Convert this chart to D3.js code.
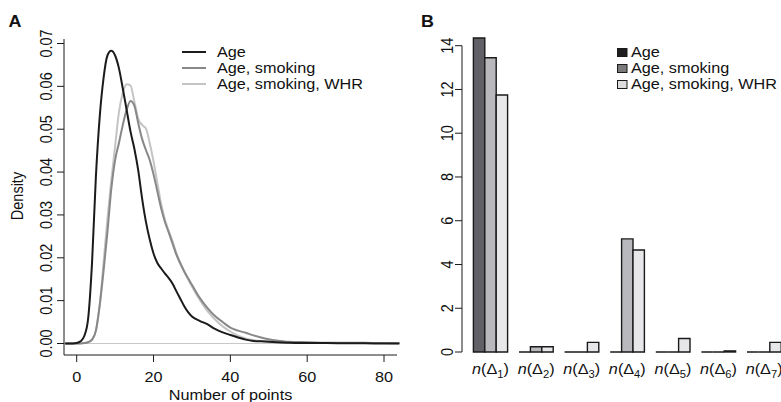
<!DOCTYPE html>
<html>
<head>
<meta charset="utf-8">
<script src="https://cdn.jsdelivr.net/npm/d3@7"></script>
<style>
  html, body { margin: 0; padding: 0; background: #fff; }
  svg { display: block; font-family: "Liberation Sans", Arial, Helvetica, sans-serif; }
  text { fill: #111; }
</style>
</head>
<body>
<div id="chart"></div>
<script>
// ---- panel A: density of number of points ----
const densX = [-3, -1, 0, 1, 2, 3, 4, 5, 6, 7, 8, 9, 10, 11, 12, 13, 14, 15, 16, 17, 18, 19, 20,
  21, 22, 23, 24, 25, 26, 27, 28, 29, 30, 32, 34, 36, 38, 40, 42, 44, 46, 48, 50, 52, 55, 60,
  65, 70, 75, 80, 84];
const densAge = [0, 0, 0.0001, 0.0005, 0.0018, 0.006, 0.019, 0.039, 0.053, 0.062, 0.0672, 0.0683,
  0.0672, 0.0642, 0.0595, 0.0545, 0.0495, 0.0455, 0.0405, 0.034, 0.0285, 0.0243, 0.021,
  0.0188, 0.0175, 0.0163, 0.0152, 0.0139, 0.0121, 0.0104, 0.0087, 0.0073, 0.0063, 0.0053,
  0.0045, 0.0034, 0.0026, 0.002, 0.0014, 0.0009, 0.0006, 0.0005, 0.0004, 0.0003, 0.0002,
  0.0001, 0.0001, 0.00005, 0.00003, 0.00002, 0];
const densSmoking = [0, 0, 0, 0, 0.0001, 0.0003, 0.0009, 0.003, 0.009, 0.017, 0.026, 0.036,
  0.0428, 0.0468, 0.051, 0.0545, 0.0566, 0.0555, 0.0515, 0.0478, 0.0452, 0.0428, 0.0395,
  0.0355, 0.0315, 0.0283, 0.0258, 0.0232, 0.0206, 0.0186, 0.0168, 0.0152, 0.0137, 0.0107,
  0.0083, 0.0064, 0.005, 0.0037, 0.003, 0.0025, 0.0019, 0.0014, 0.001, 0.0007, 0.0004,
  0.0003, 0.0002, 0.0002, 0.0002, 0.0001, 0.00005];
const densWHR = [0, 0, 0, 0, 0.0001, 0.0003, 0.0009, 0.003, 0.009, 0.019, 0.029, 0.038, 0.046,
  0.054, 0.0585, 0.0605, 0.0602, 0.0565, 0.0525, 0.051, 0.0502, 0.0468, 0.0425, 0.0375,
  0.0325, 0.0288, 0.0262, 0.0237, 0.021, 0.0188, 0.0168, 0.015, 0.0133, 0.0102, 0.0076,
  0.0056, 0.004, 0.0028, 0.0018, 0.0012, 0.0008, 0.0006, 0.0005, 0.0004, 0.0003, 0.0002,
  0.0001, 0.0001, 0.0001, 0.0001, 0.0001];
const densTicksX = [0, 20, 40, 60, 80];
const densTicksY = [0, 0.01, 0.02, 0.03, 0.04, 0.05, 0.06, 0.07];

// ---- panel B: counts per Delta ----
const deltaIdx = ['1', '2', '3', '4', '5', '6', '7'];
const barAge = [14.35, 0, 0, 0, 0, 0, 0];
const barSmoking = [13.45, 0.24, 0, 5.17, 0, 0, 0];
const barWHR = [11.75, 0.24, 0.44, 4.66, 0.62, 0.05, 0.44];
const barTicksY = [0, 2, 4, 6, 8, 10, 12, 14];

const models = ['Age', 'Age, smoking', 'Age, smoking, WHR'];

const props = {
  width: 781,
  height: 402,
  fontSize: 14.5,
  sx: 1.12, // the picture is a touch wider than tall
  lineColors: ['#1b1b1b', '#888888', '#c4c4c4'],
  barFills: ['#606066', '#b9b9bd', '#e7e7ea'],
  legendFills: ['#1e1e1e', '#7a7a7a', '#dcdcdc'],
  ink: '#1a1a1a',
};

const svg = d3.select('#chart').append('svg')
  .attr('width', props.width)
  .attr('height', props.height);

// text helper: horizontally stretched, optionally rotated
function label(g, x, y, str, anchor, rotate) {
  const t = g.append('text')
    .attr('transform', `translate(${x},${y}) scale(${props.sx},1)` + (rotate ? ' rotate(-90)' : ''))
    .attr('text-anchor', anchor || 'start')
    .style('font-size', props.fontSize + 'px');
  if (str != null) t.text(str);
  return t;
}

// ================= Panel A =================
const a = svg.append('g').attr('class', 'panel-a');
a.append('clipPath').attr('id', 'clipA')
  .append('rect').attr('x', 64).attr('y', 30).attr('width', 336).attr('height', 326);

const xA = d3.scaleLinear().domain([0, 80]).range([76.7, 384]);
const yA = d3.scaleLinear().domain([0, 0.07]).range([343.5, 43.5]);

// zero reference line
a.append('line')
  .attr('x1', 64).attr('x2', 400)
  .attr('y1', yA(0)).attr('y2', yA(0))
  .attr('stroke', '#c8c8c8').attr('stroke-width', 1);

const line = d3.line()
  .x((d, i) => xA(densX[i]))
  .y(d => yA(d))
  .curve(d3.curveMonotoneX);

a.append('g').attr('clip-path', 'url(#clipA)')
  .selectAll('path')
  .data([densWHR, densSmoking, densAge].map((d, i) => ({ d, c: props.lineColors[2 - i] })))
  .enter().append('path')
  .attr('d', d => line(d.d))
  .attr('fill', 'none')
  .attr('stroke', d => d.c)
  .attr('stroke-width', 2);

// L-shaped box
a.append('path')
  .attr('d', `M64,39V355H397`)
  .attr('fill', 'none').attr('stroke', props.ink).attr('stroke-width', 1);

// x ticks
a.append('g').selectAll('line').data(densTicksX).enter().append('line')
  .attr('x1', d => xA(d)).attr('x2', d => xA(d))
  .attr('y1', 355).attr('y2', 362)
  .attr('stroke', props.ink);
densTicksX.forEach(d => label(a, xA(d), 381.5, d, 'middle'));
label(a, 230.5, 399.5, 'Number of points', 'middle');

// y ticks
a.append('g').selectAll('line').data(densTicksY).enter().append('line')
  .attr('x1', 57).attr('x2', 64)
  .attr('y1', d => yA(d)).attr('y2', d => yA(d))
  .attr('stroke', props.ink);
densTicksY.forEach(d => label(a, 51.5, yA(d), d3.format('.2f')(d), 'middle', true));
label(a, 22.5, 196, 'Density', 'middle', true);

label(a, 8.5, 27, 'A', 'start').style('font-weight', 'bold').style('font-size', '16px');

// legend A
models.forEach((m, i) => {
  const y = 52 + i * 16;
  a.append('line')
    .attr('x1', 182).attr('x2', 206).attr('y1', y).attr('y2', y)
    .attr('stroke', props.lineColors[i]).attr('stroke-width', 2);
  label(a, 217, y + 5.3, m);
});

// ================= Panel B =================
const b = svg.append('g').attr('class', 'panel-b');
const unit = 11.4;
const xB = d3.scaleLinear().domain([0, 1]).range([462, 462 + unit]);
const yB = d3.scaleLinear().domain([0, 14]).range([352, 45.7]);

const series = [barAge, barSmoking, barWHR];
const bars = [];
deltaIdx.forEach((k, g) => {
  series.forEach((s, j) => {
    bars.push({ g, j, v: s[g], x0: 1 + g * 4 + j });
  });
});

// zero-height bars still show as a flat outline, like R's barplot
b.append('g').selectAll('path').data(bars).enter().append('path')
  .attr('d', d => `M${xB(d.x0)},${yB(0)}V${yB(d.v)}H${xB(d.x0 + 1)}V${yB(0)}Z`)
  .attr('fill', d => props.barFills[d.j])
  .attr('stroke', props.ink)
  .attr('stroke-width', 1.4)
  .attr('stroke-linejoin', 'miter');

// y axis
b.append('line')
  .attr('x1', 462).attr('x2', 462).attr('y1', yB(14)).attr('y2', yB(0))
  .attr('stroke', props.ink);
b.append('g').selectAll('line').data(barTicksY).enter().append('line')
  .attr('x1', 455).attr('x2', 462)
  .attr('y1', d => yB(d)).attr('y2', d => yB(d))
  .attr('stroke', props.ink);
barTicksY.forEach(d => label(b, 453, yB(d), d, 'middle', true));

// group labels n(Δk)
deltaIdx.forEach((k, g) => {
  const t = label(b, xB(2.5 + g * 4), 374, null, 'middle');
  t.append('tspan').style('font-style', 'italic').text('n');
  t.append('tspan').text('(Δ');
  t.append('tspan').attr('dy', 4).style('font-size', '10px').text(k);
  t.append('tspan').attr('dy', -4).text(')');
});

label(b, 421, 27, 'B', 'start').style('font-weight', 'bold').style('font-size', '16px');

// legend B
models.forEach((m, i) => {
  const y = 52.5 + i * 16;
  b.append('rect')
    .attr('x', 617.5).attr('y', y - 4).attr('width', 9.5).attr('height', 8)
    .attr('fill', props.legendFills[i]).attr('stroke', props.ink).attr('stroke-width', 1);
  label(b, 631, y + 4.8, m);
});
</script>
</body>
</html>
